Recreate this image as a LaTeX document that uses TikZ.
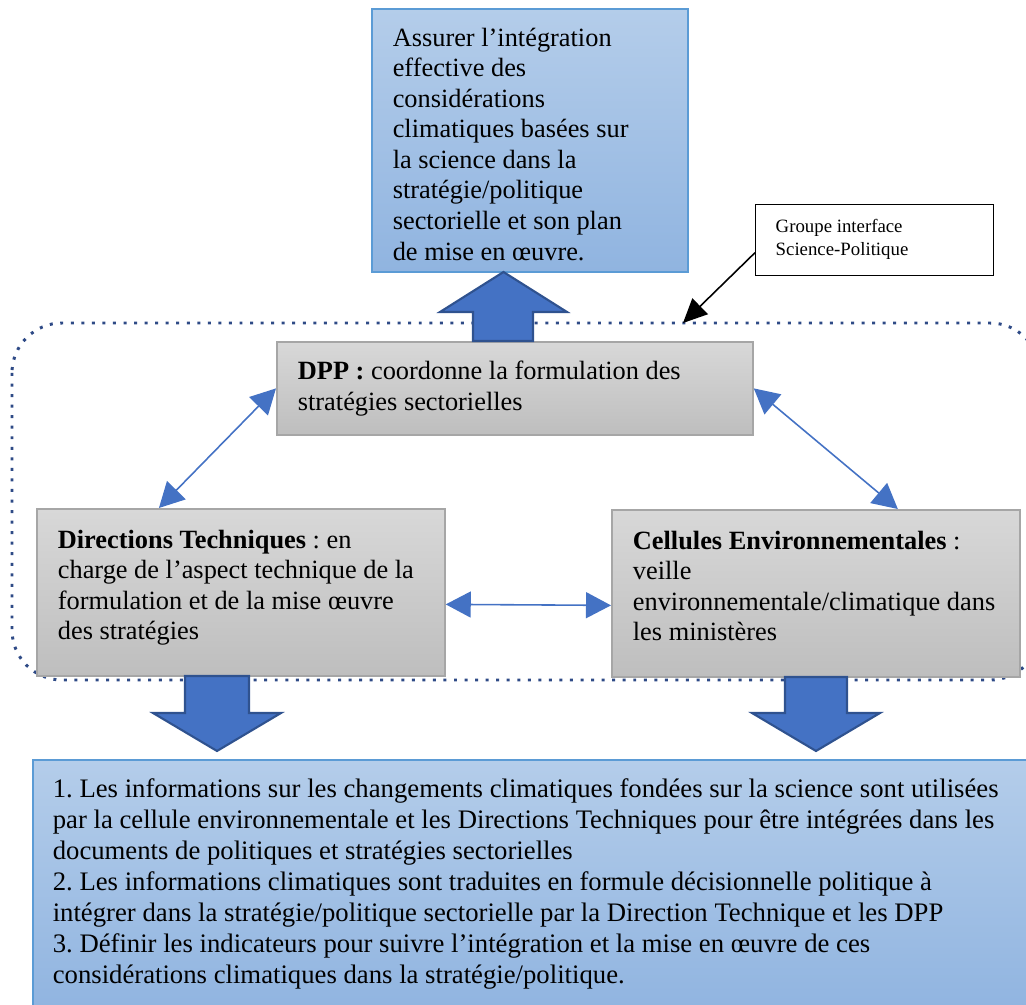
\documentclass[tikz,border=0pt]{standalone}
\usepackage{fontspec}
\setmainfont{Liberation Serif}
\frenchspacing
\definecolor{bluetop}{HTML}{B4CDEA}
\definecolor{bluebottom}{HTML}{90B4E0}
\definecolor{blueedge}{HTML}{5B9BD5}
\definecolor{graytop}{HTML}{D8D8D8}
\definecolor{graybottom}{HTML}{BEBEBE}
\definecolor{grayedge}{HTML}{A6A6A6}
\definecolor{myblue}{HTML}{4472C4}
\definecolor{darkblue}{HTML}{2F528F}
\definecolor{dotblue}{HTML}{2E4A86}
\usetikzlibrary{arrows.meta, calc, positioning}
\tikzset{
	defaultnode/.style={
			rectangle,
			anchor=north west,
			align=left,
			inner xsep=0.42cm,
			inner ysep=0.38cm,
			font=\fontsize{15}{17.4}\selectfont
		},
	bluenode/.style={
			defaultnode,
			draw=blueedge,
			line width=0.9pt,
			top color=bluetop,
			bottom color=bluebottom
		},
	graynode/.style={
			defaultnode,
			draw=grayedge,
			line width=1pt,
			top color=graytop,
			bottom color=graybottom
		},
	notenode/.style={
			defaultnode,
			draw=black,
			fill=white,
			line width=0.8pt,
			inner xsep=0.40cm,
			inner ysep=0.30cm,
			font=\fontsize{10.7}{12.6}\selectfont
		},
	grouplink/.style={
			draw=dotblue,
			line width=1.7pt,
			dash pattern=on 1.7pt off 4.3pt
		},
	bluelink/.style={
			draw=myblue,
			line width=0.9pt,
			{Triangle[length=5mm,width=5.2mm]}-{Triangle[length=5mm,width=5.2mm]}
		},
	blockarrow/.style={
			fill=myblue,
			draw=darkblue,
			line width=1.2pt,
			line join=miter
		}
}
\newcommand{\boxtext}[3]{\parbox[t][#2][t]{#1}{\raggedright #3}}

\begin{document}
\begin{tikzpicture}
\useasboundingbox (0,0) rectangle (20.52,-20.10);

% group science-politique
\draw[grouplink, rounded corners=1cm] (0.24,-6.46) rectangle (20.80,-13.60);

\node[bluenode] (goal) at (7.42,-0.16) {\boxtext{5.48cm}{4.50cm}{Assurer l’intégration\\ effective des\\ considérations\\ climatiques basées sur\\ la science dans la\\ stratégie/politique\\ sectorielle et son plan\\ de mise en œuvre.}};
\node[notenode] (note) at (15.10,-4.08) {\boxtext{3.96cm}{0.82cm}{Groupe interface\\ Science-Politique}};
\node[graynode] (dpp) at (5.52,-6.82) {\boxtext{8.68cm}{1.10cm}{\textbf{DPP :} coordonne la formulation des\\ stratégies sectorielles}};
\node[graynode, inner ysep=0.42cm] (dt) at (0.72,-10.16) {\boxtext{7.32cm}{2.50cm}{\textbf{Directions Techniques} : en\\ charge de l’aspect technique de la\\ formulation et de la mise œuvre\\ des stratégies}};
\node[graynode, inner ysep=0.42cm] (ce) at (12.22,-10.18) {\boxtext{7.32cm}{2.50cm}{\textbf{Cellules Environnementales} :\\ veille\\ environnementale/climatique dans\\ les ministères}};
\node[bluenode, inner xsep=0.40cm, font=\fontsize{15.2}{17.6}\selectfont] (info) at (0.64,-15.18) {\boxtext{19.30cm}{4.30cm}{1. Les informations sur les changements climatiques fondées sur la science sont utilisées\\ par la cellule environnementale et les Directions Techniques pour être intégrées dans les\\ documents de politiques et stratégies sectorielles\\ 2. Les informations climatiques sont traduites en formule décisionnelle politique à\\ intégrer dans la stratégie/politique sectorielle par la Direction Technique et les DPP\\ 3. Définir les indicateurs pour suivre l’intégration et la mise en œuvre de ces\\ considérations climatiques dans la stratégie/politique.}};

\coordinate (grp) at (13.66,-6.46);

\draw[bluelink] (dpp.west) -- ($(dt.north west)!0.3!(dt.north east)$);
\draw[bluelink] (dpp.east) -- ($(ce.north west)!0.7!(ce.north east)$);
\draw[bluelink] ([yshift=-0.24cm]dt.east) -- ([yshift=-0.24cm]ce.west);
\draw[line width=0.9pt, -{Triangle[length=4.8mm,width=4.4mm]}] ([yshift=-0.25cm]note.west) -- (grp);

% block arrows
\draw[blockarrow] (9.46,-6.82) -- (9.46,-6.24) -- (8.80,-6.24) -- (10.07,-5.44) -- (11.34,-6.24) -- (10.66,-6.24) -- (10.66,-6.82) -- cycle;
\draw[blockarrow] (3.70,-13.52) -- (3.70,-14.26) -- (3.06,-14.26) -- (4.34,-15.02) -- (5.62,-14.26) -- (4.98,-14.26) -- (4.98,-13.52) -- cycle;
\draw[blockarrow] (15.70,-13.54) -- (15.70,-14.26) -- (15.04,-14.26) -- (16.32,-15.02) -- (17.60,-14.26) -- (16.94,-14.26) -- (16.94,-13.54) -- cycle;
\end{tikzpicture}
\end{document}
